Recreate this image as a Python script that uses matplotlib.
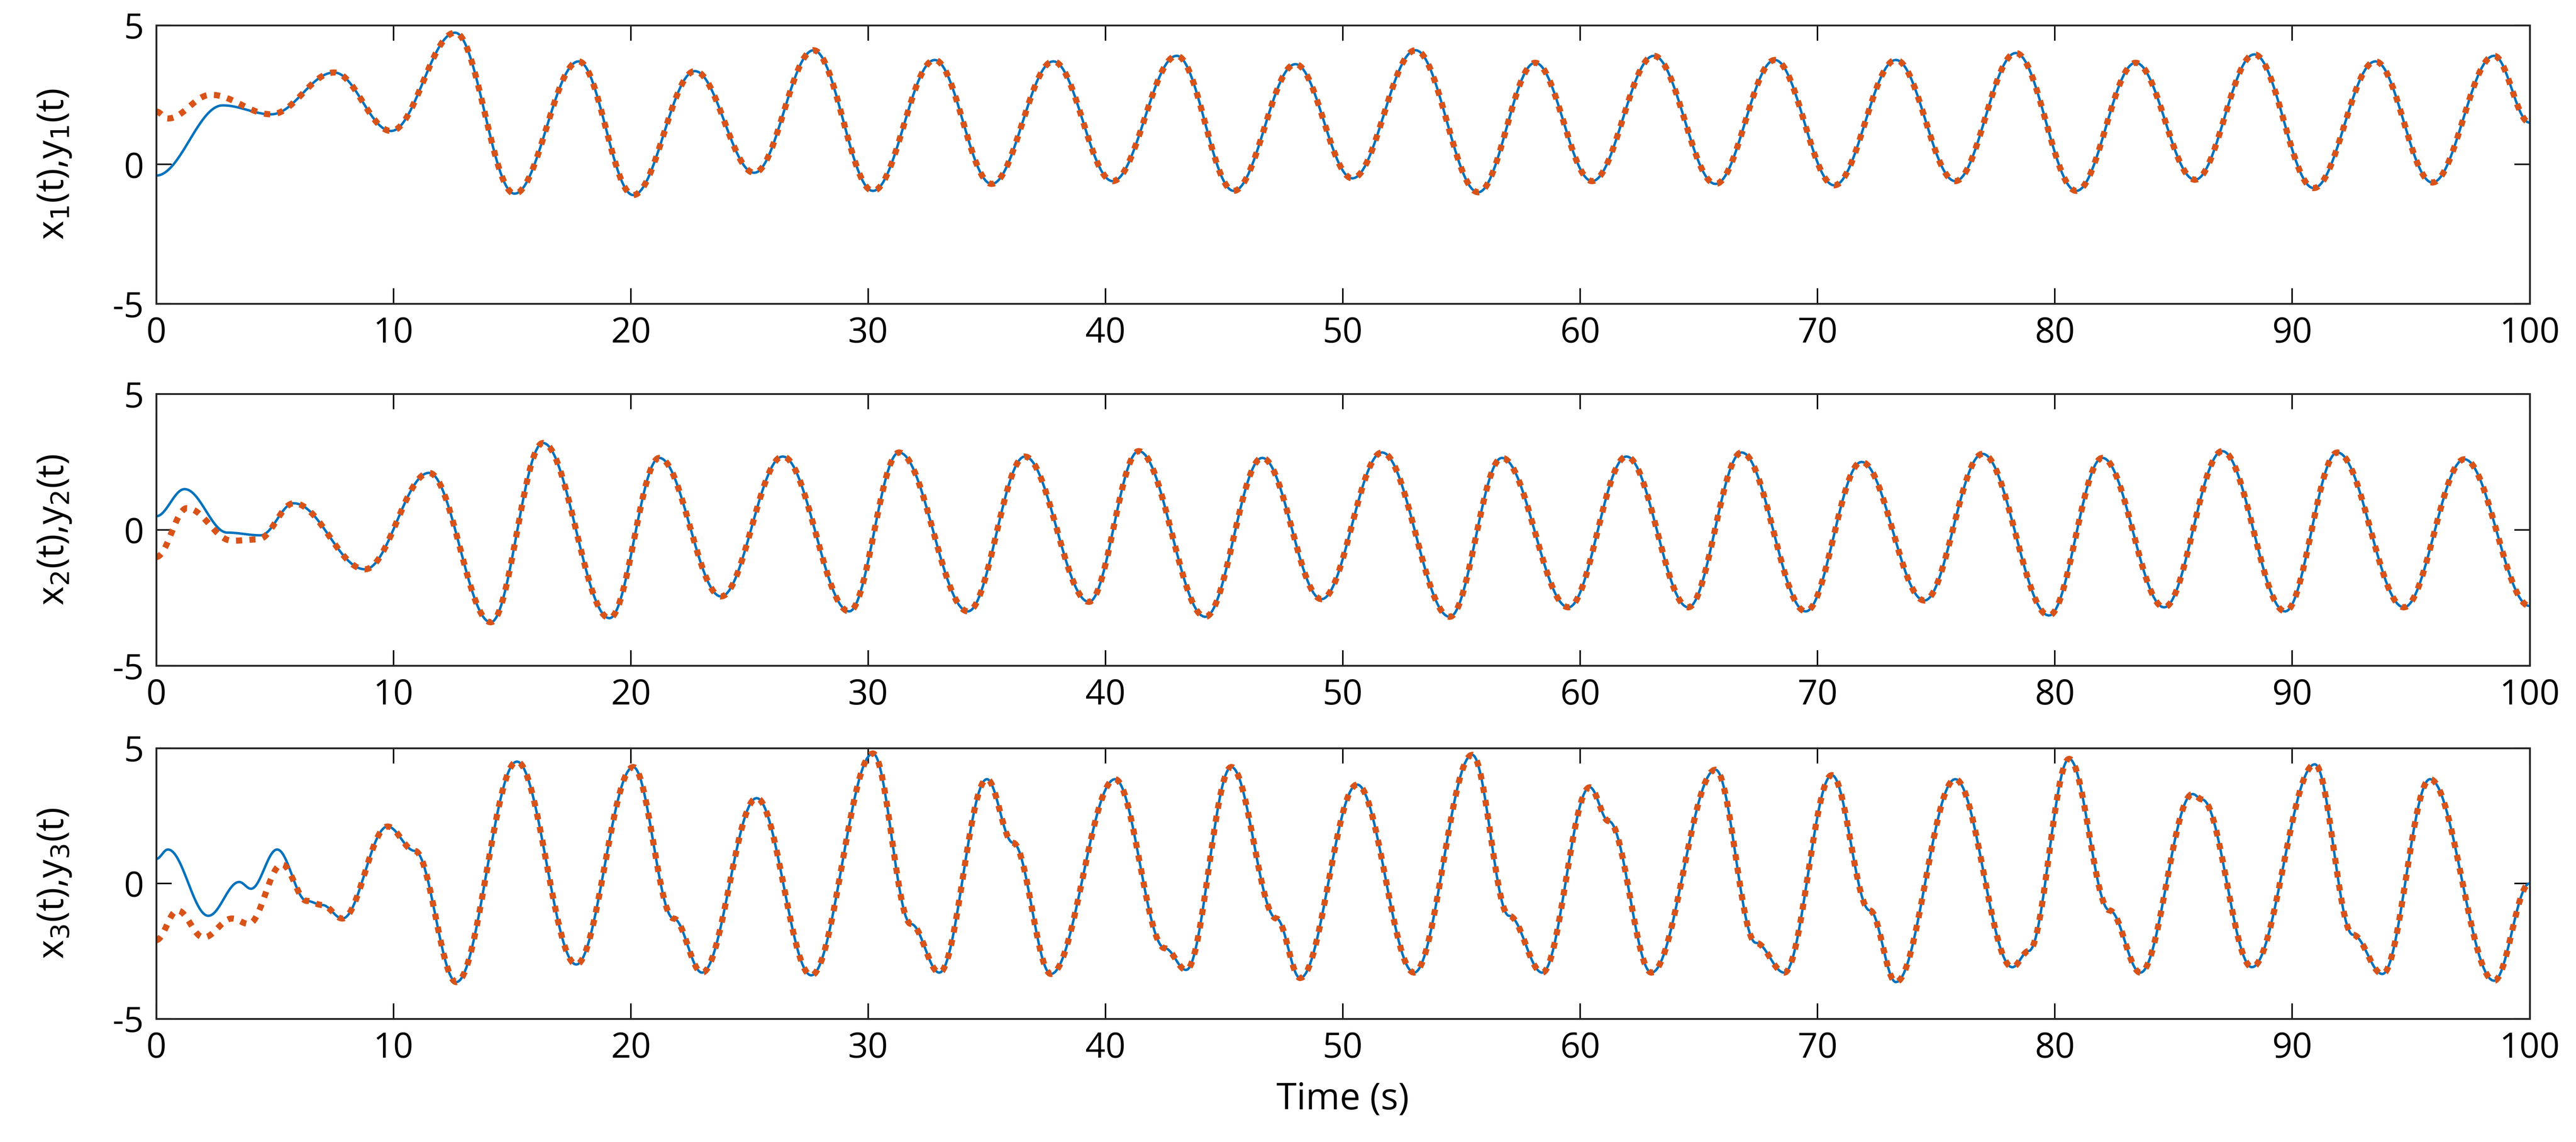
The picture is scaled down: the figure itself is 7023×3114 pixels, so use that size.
import numpy as np
import matplotlib.pyplot as plt

plt.rcParams['font.family'] = ['Open Sans', 'DejaVu Sans']
plt.rcParams['axes.unicode_minus'] = False

# extrema (time, value); shared part after transient
x1_t = [0, 2.8, 4.85, 7.5, 9.9, 12.6, 15.1, 17.8, 20.1, 22.7, 25.2, 27.7, 30.2, 32.8, 35.2, 37.8, 40.3,
        43.0, 45.4, 48.0, 50.4, 53.06, 55.7, 58.1, 60.5, 63.1, 65.7, 68.2, 70.7, 73.3, 75.8, 78.35,
        80.9, 83.4, 85.9, 88.4, 90.9, 93.5, 95.9, 98.5, 100]
x1_v = [-0.4, 2.12, 1.8, 3.3, 1.2, 4.73, -1.05, 3.7, -1.1, 3.35, -0.3, 4.1, -0.95, 3.75, -0.7, 3.7, -0.6,
        3.9, -0.95, 3.6, -0.5, 4.1, -1.0, 3.65, -0.6, 3.9, -0.7, 3.75, -0.75, 3.75, -0.6, 4.0,
        -0.95, 3.65, -0.55, 3.95, -0.85, 3.7, -0.65, 3.9, 1.5]
y1_t = [0, 0.5, 2.3, 4.85]
y1_v = [1.9, 1.65, 2.5, 1.8]

x2_t = [0, 1.2, 3.0, 4.4, 5.8, 8.8, 11.5, 14.1, 16.3, 19.1, 21.2, 23.8, 26.4, 29.2, 31.3, 34.2, 36.6,
        39.3, 41.4, 44.2, 46.6, 49.1, 51.65, 54.5, 56.7, 59.5, 61.95, 64.55, 66.8, 69.5, 71.85, 74.5,
        76.95, 79.75, 82.0, 84.6, 87.05, 89.7, 91.9, 94.7, 97.25, 100]
x2_v = [0.5, 1.5, -0.1, -0.2, 0.98, -1.45, 2.1, -3.4, 3.2, -3.25, 2.65, -2.45, 2.7, -3.0, 2.85, -3.0, 2.7,
        -2.65, 2.9, -3.2, 2.65, -2.55, 2.85, -3.2, 2.65, -2.85, 2.7, -2.85, 2.85, -3.0, 2.5, -2.6,
        2.8, -3.15, 2.65, -2.85, 2.9, -3.0, 2.85, -2.85, 2.6, -2.8]
y2_t = [0, 1.3, 3.2, 4.3, 5.8]
y2_v = [-1.0, 0.8, -0.4, -0.35, 0.98]

x3_t = [0, 0.5, 2.2, 3.5, 4.0, 5.1, 6.35, 7.0, 7.85, 9.75, 10.9, 12.65, 15.2, 17.7, 20.1, 21.8, 23.0,
        25.3, 27.6, 30.2, 31.8, 33.0, 35.0, 36.1, 37.7, 40.4, 42.5, 43.4, 45.3, 47.2, 48.2, 50.6,
        53.0, 55.45, 57.0, 58.4, 60.4, 61.2, 63.0, 65.7, 67.4, 68.6, 70.6, 72.2, 73.3, 75.8, 78.2,
        78.9, 80.6, 82.3, 83.6, 85.8, 86.2, 88.3, 90.95, 92.55, 93.8, 95.8, 98.5, 100]
x3_v = [0.9, 1.25, -1.2, 0.05, -0.2, 1.25, -0.65, -0.8, -1.3, 2.1, 1.2, -3.65, 4.5, -3.0, 4.3, -1.3, -3.3,
        3.15, -3.4, 4.8, -1.5, -3.3, 3.85, 1.5, -3.35, 3.85, -2.4, -3.2, 4.3, -1.3, -3.5, 3.65,
        -3.3, 4.75, -1.2, -3.3, 3.55, 2.3, -3.3, 4.2, -2.2, -3.3, 4.0, -1.0, -3.65, 3.85, -3.1,
        -2.5, 4.6, -1.0, -3.3, 3.3, 3.1, -3.1, 4.4, -1.9, -3.35, 3.85, -3.6, 0.0]
y3_t = [0, 0.9, 2.0, 3.2, 3.9, 5.3, 6.35]
y3_v = [-2.1, -1.0, -2.0, -1.3, -1.5, 0.7, -0.65]


def smooth(tk, vk, n=30):
    # half-cosine between consecutive extrema
    ts, vs = [], []
    for i in range(len(tk) - 1):
        s = np.linspace(0, 1, n, endpoint=False)
        w = (1 - np.cos(np.pi * s)) / 2
        ts.append(tk[i] + (tk[i + 1] - tk[i]) * s)
        vs.append(vk[i] + (vk[i + 1] - vk[i]) * w)
    ts.append([tk[-1]]); vs.append([vk[-1]])
    return np.concatenate(ts), np.concatenate(vs)


def follower(xt, xv, yt, yv):
    k = xt.index(yt[-1])
    return list(yt) + xt[k + 1:], list(yv) + xv[k + 1:]


panels = [(x1_t, x1_v, y1_t, y1_v, '1'), (x2_t, x2_v, y2_t, y2_v, '2'), (x3_t, x3_v, y3_t, y3_v, '3')]
bounds = [(0.734, 0.978), (0.417, 0.655), (0.108, 0.345)]

fig = plt.figure(figsize=(23.41, 10.38), dpi=300)
for (xt, xv, yt, yv, i), (b, t) in zip(panels, bounds):
    ax = fig.add_axes([0.0606, b, 0.9214, t - b])
    bt, bv = smooth(xt, xv)
    ft, fv = smooth(*follower(xt, xv, yt, yv))
    ax.plot(bt, bv, color='#0072BD', lw=1.6)
    ax.plot(ft, fv, color='#D95319', lw=4, linestyle=(0, (1, 1.2)))
    ax.set_xlim(0, 100)
    ax.set_ylim(-5, 5)
    ax.set_xticks(range(0, 101, 10))
    ax.set_yticks([-5, 0, 5])
    ax.tick_params(direction='in', top=True, right=True, length=10, width=1, labelsize=23, pad=8)
    for sp in ax.spines.values():
        sp.set_linewidth(1.2)
        sp.set_color('#262626')
    ax.set_ylabel(f'x$_{i}$(t),y$_{i}$(t)', fontsize=24)
    ax.yaxis.set_label_coords(-0.035, 0.5)
    if i == '3':
        ax.set_xlabel('Time (s)', fontsize=24, labelpad=10)

fig.savefig('out.png')
